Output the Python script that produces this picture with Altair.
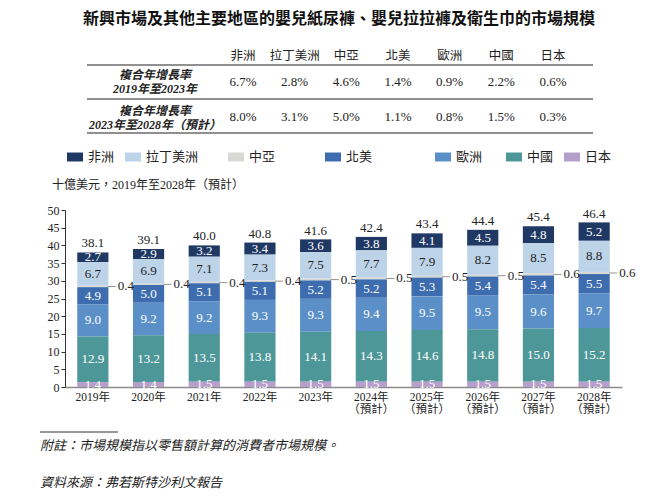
import altair as alt
import pandas as pd

# ---------------- data ----------------
years = ["2019年", "2020年", "2021年", "2022年", "2023年",
         "2024年（預計）", "2025年（預計）", "2026年（預計）", "2027年（預計）", "2028年（預計）"]
regions = ["非洲", "拉丁美洲", "中亞", "北美", "歐洲", "中國", "日本"]

africa = [2.7, 2.9, 3.2, 3.4, 3.6, 3.8, 4.1, 4.5, 4.8, 5.2]
latam = [6.7, 6.9, 7.1, 7.3, 7.5, 7.7, 7.9, 8.2, 8.5, 8.8]
central_asia = [0.4, 0.4, 0.4, 0.4, 0.5, 0.5, 0.5, 0.5, 0.6, 0.6]
north_america = [4.9, 5.0, 5.1, 5.1, 5.2, 5.2, 5.3, 5.4, 5.4, 5.5]
europe = [9.0, 9.2, 9.2, 9.3, 9.3, 9.4, 9.5, 9.5, 9.6, 9.7]
china = [12.9, 13.2, 13.5, 13.8, 14.1, 14.3, 14.6, 14.8, 15.0, 15.2]
japan = [1.4, 1.4, 1.5, 1.5, 1.5, 1.5, 1.5, 1.5, 1.5, 1.5]
totals = [38.1, 39.1, 40.0, 40.8, 41.6, 42.4, 43.4, 44.4, 45.4, 46.4]
y_ticks = [0, 5, 10, 15, 20, 25, 30, 35, 40, 45, 50]

cagr_2019_2023 = ["6.7%", "2.8%", "4.6%", "1.4%", "0.9%", "2.2%", "0.6%"]
cagr_2023_2028 = ["8.0%", "3.1%", "5.0%", "1.1%", "0.8%", "1.5%", "0.3%"]

title_text = "新興市場及其他主要地區的嬰兒紙尿褲、嬰兒拉拉褲及衛生巾的市場規模"
row1_label = "複合年增長率\n2019年至2023年"
row2_label = "複合年增長率\n2023年至2028年（預計）"
unit_text = "十億美元，2019年至2028年（預計）"
note_text = "附註：市場規模指以零售額計算的消費者市場規模。"
source_text = "資料來源：弗若斯特沙利文報告"

colors = ["#1f3864", "#bdd3e8", "#d8d9d4", "#3d6daf", "#5b8fc8", "#4e9799", "#b79fcb"]

# ---------------- frames ----------------
series = [africa, latam, central_asia, north_america, europe, china, japan]
rows = []
for i, y in enumerate(years):
    for j, r in enumerate(regions):
        rows.append({"year": y, "region": r, "value": series[j][i], "order": len(regions) - 1 - j})
df = pd.DataFrame(rows)
tot_df = pd.DataFrame({"year": years, "total": totals})
tab_df = pd.DataFrame({"region": regions, "c1": cagr_2019_2023, "c2": cagr_2023_2028})

SERIF = "Liberation Serif, Noto Sans CJK TC"
SANS = "Noto Sans CJK TC"
DARK = "#222222"

x_label_expr = ("indexof(datum.value, '（') > 0 ? "
                "[substring(datum.value, 0, indexof(datum.value, '（')), "
                "substring(datum.value, indexof(datum.value, '（'))] : datum.value")

xscale = alt.Scale(paddingInner=0.44, paddingOuter=0.22)
X_AXIS = alt.X("year:N", sort=years, scale=xscale,
               axis=alt.Axis(title=None, labelAngle=0, ticks=False, domainColor="#8a8a8a",
                             domainWidth=1.5, labelFont=SERIF, labelFontSize=11.5, labelColor=DARK,
                             labelPadding=4, labelLineHeight=12.5, labelExpr=x_label_expr))
X = alt.X("year:N", sort=years, scale=xscale)

yscale = alt.Scale(domain=[0, 50], nice=False, zero=True)
y_axis = alt.Axis(title=None, values=y_ticks, grid=False, tickSize=4,
                  tickColor="#333", domainColor="#333", labelFont=SERIF, labelFontSize=12,
                  labelColor=DARK, labelPadding=2, labelOverlap=False, labelBound=False)


def Y(field):
    return alt.Y(field, scale=yscale, axis=y_axis)


base = alt.Chart(df).transform_stack(
    stack="value", as_=["y0", "y1"], groupby=["year"],
    sort=[alt.SortField("order", order="ascending")]
).transform_calculate(mid="(datum.y0 + datum.y1) / 2")

# legend spacing: extra label padding (zero-width char keeps the pad from being trimmed)
pads = {"非洲": 0, "拉丁美洲": 1.5, "中亞": 3, "北美": 4, "歐洲": 1, "中國": 0}
expr = "datum.label"
for k, v in pads.items():
    pad = "\u3000" * int(v) + ("\u2002" if v % 1 else "")
    if pad:
        expr = f"datum.label == '{k}' ? datum.label + '{pad}\u200b' : (" + expr + ")"

bars = base.mark_bar().encode(
    x=X_AXIS,
    y=Y("y0:Q"),
    y2="y1:Q",
    color=alt.Color("region:N", sort=regions,
                    scale=alt.Scale(domain=regions, range=colors),
                    legend=alt.Legend(title=None, orient="none", legendX=2, legendY=-61,
                                      direction="horizontal", padding=0,
                                      symbolType="M-1,-0.56L1,-0.56L1,0.56L-1,0.56Z",
                                      symbolSize=256, symbolStrokeWidth=0, symbolOpacity=1,
                                      labelFont=SANS, labelFontSize=13, labelColor=DARK,
                                      labelOffset=5, columnPadding=10, labelExpr=expr)),
)

seg_text = base.transform_filter("datum.region != '中亞'").mark_text(
    font=SERIF, fontSize=13, baseline="middle"
).encode(
    x=X, y=Y("mid:Q"),
    text=alt.Text("value:Q", format=".1f"),
    color=alt.condition("datum.region == '拉丁美洲'", alt.value(DARK), alt.value("white")),
)

ca = base.transform_filter("datum.region == '中亞'")
ca_tick = ca.mark_tick(orient="horizontal", size=8, thickness=1, xOffset=19, color="#666").encode(
    x=X, y=Y("mid:Q"))
ca_text = ca.mark_text(align="left", dx=25, font=SERIF, fontSize=13, color=DARK).encode(
    x=X, y=Y("mid:Q"), text=alt.Text("value:Q", format=".1f"))

tot_text = alt.Chart(tot_df).mark_text(dy=-9, font=SERIF, fontSize=13, color=DARK).encode(
    x=X, y=Y("total:Q"), text=alt.Text("total:Q", format=".1f"))

main = alt.layer(bars, seg_text, ca_tick, ca_text, tot_text)

# ---------------- table ----------------
TX = alt.X("region:N", sort=regions, axis=None,
           scale=alt.Scale(type="point", domain=regions, range=[178, 488], padding=0))
hdr = alt.Chart(tab_df).mark_text(font=SANS, fontSize=12.5, color=DARK).encode(
    x=TX, y=alt.value(-154), text="region:N")
v1 = alt.Chart(tab_df).mark_text(font=SERIF, fontSize=13, color=DARK).encode(
    x=TX, y=alt.value(-128), text="c1:N")
v2 = alt.Chart(tab_df).mark_text(font=SERIF, fontSize=13, color=DARK).encode(
    x=TX, y=alt.value(-93), text="c2:N")

one = alt.Data(values=[{"a": 1}])


def txt(t, x, y, **kw):
    return alt.Chart(one).mark_text(text=t, **kw).encode(x=alt.value(x), y=alt.value(y))


def hrule(x1, x2, y, **kw):
    return alt.Chart(one).mark_rule(**kw).encode(x=alt.value(x1), x2=alt.value(x2), y=alt.value(y))


lab1 = txt(row1_label, 90, -135, lineBreak="\n", lineHeight=14, font=SERIF, fontSize=12,
           fontStyle="italic", fontWeight="bold", color=DARK)
lab2 = txt(row2_label, 90, -99, lineBreak="\n", lineHeight=14, font=SERIF, fontSize=12,
           fontStyle="italic", fontWeight="bold", color=DARK)
r1 = hrule(22, 528, -145, color="#6b6b6b", strokeWidth=1.5)
r2 = hrule(22, 528, -111, color="#6b6b6b", strokeWidth=1.5)
r3 = hrule(22, 528, -77, color="#6b6b6b", strokeWidth=1.5)

title = txt(title_text, 274, -191, font=SANS, fontSize=16, fontWeight="bold", color="#111")
unit = txt(unit_text, -13, -25, align="left", font=SERIF, fontSize=12, color=DARK)
fn_rule = hrule(-25, 53, 222, color="#333", strokeWidth=1)
note = txt(note_text, -25, 236, align="left", font=SERIF, fontSize=13, fontStyle="italic", color=DARK)
src = txt(source_text, -25, 273, align="left", font=SERIF, fontSize=13, fontStyle="italic", color=DARK)

chart = alt.layer(
    main, hdr, v1, v2, lab1, lab2, r1, r2, r3, title, unit, fn_rule, note, src
).resolve_scale(x="independent").properties(
    width=557, height=177,
    autosize=alt.AutoSizeParams(type="none"),
    padding={"left": 65, "top": 210, "right": 38, "bottom": 110},
    background="white",
).configure_view(stroke=None).configure_axisY(labelOverlap=False)

chart.save("out.html", embed_options={"renderer": "svg", "actions": False})
